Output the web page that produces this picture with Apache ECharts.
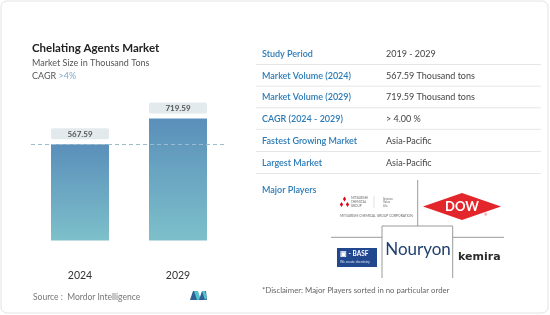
<!DOCTYPE html>
<html>
<head>
<meta charset="utf-8">
<script src="https://cdn.jsdelivr.net/npm/echarts@6/dist/echarts.min.js"></script>
<style>
  html, body { margin: 0; padding: 0; background: #fff; }
  #main { width: 550px; height: 315px; }
</style>
</head>
<body>
<div id="main"></div>
<script>
    var years = ['2024', '2029'];
    var volumes = [567.59, 719.59];
    var tableLabels = ['Study Period', 'Market Volume (2024)', 'Market Volume (2029)', 'CAGR (2024 - 2029)', 'Fastest Growing Market', 'Largest Market'];
    var tableValues = ['2019 - 2029', '567.59 Thousand tons', '719.59 Thousand tons', '> 4.00 %', 'Asia-Pacific', 'Asia-Pacific'];

    var FONT = 'Lato, "Open Sans", sans-serif';
    var blue = '#2b7bb6';

    function txt(x, y, text, size, color, weight, extra) {
        var s = { x: x, y: y, text: text, fontSize: size, fill: color, fontFamily: FONT,
                  fontWeight: weight || 'normal', textVerticalAlign: 'middle' };
        for (var k in extra) s[k] = extra[k];
        return { type: 'text', silent: true, style: s };
    }
    function line(x1, y1, x2, y2, color, w) {
        return { type: 'line', silent: true, shape: { x1: x1, y1: y1, x2: x2, y2: y2 },
                 style: { stroke: color, lineWidth: w || 1 } };
    }

    var graphics = [];
    // card outline
    graphics.push({ type: 'rect', silent: true, shape: { x: 1, y: 1, width: 547, height: 312, r: 6 },
                    style: { fill: 'none', stroke: '#e2e2e2', lineWidth: 1 } });
    // header text
    graphics.push(txt(32, 48, 'Chelating Agents Market', 11.5, '#222', 'bold'));
    graphics.push(txt(32, 63, 'Market Size in Thousand Tons', 9, '#555'));
    graphics.push({ type: 'text', silent: true, style: {
        x: 32, y: 76, textVerticalAlign: 'middle', fontFamily: FONT,
        text: '{a|CAGR }{b|>4%}',
        rich: { a: { fontSize: 9, fill: '#555', fontFamily: FONT }, b: { fontSize: 9, fill: '#7fa9cc', fontFamily: FONT } }
    } });
    // source
    graphics.push(txt(33, 297, 'Source :  Mordor Intelligence', 8.5, '#777'));
    graphics.push({ type: 'polygon', silent: true, shape: { points: [[190, 300], [193, 291], [197, 291], [200, 300]] }, style: { fill: '#2f5f96' } });
    graphics.push({ type: 'polygon', silent: true, shape: { points: [[194, 291], [198, 291], [201, 300], [197, 300]] }, style: { fill: '#52c3c9' } });
    graphics.push({ type: 'polygon', silent: true, shape: { points: [[199, 300], [202, 291], [206, 291], [207, 300]] }, style: { fill: '#2f5f96' } });
    graphics.push({ type: 'polygon', silent: true, shape: { points: [[202, 291], [205, 291], [207, 298], [205, 300]] }, style: { fill: '#52c3c9' } });

    // table
    var rowY = [54, 75.7, 97.3, 118.8, 141, 163];
    for (var i = 0; i < tableLabels.length; i++) {
        graphics.push(txt(262, rowY[i], tableLabels[i], 9, blue, '600'));
        graphics.push(txt(386, rowY[i], tableValues[i], 9, '#444'));
        graphics.push(line(256, rowY[i] + 10.5, 541, rowY[i] + 10.5, '#e6e6e6'));
    }
    graphics.push(txt(262, 190, 'Major Players', 9, blue, '600'));

    // logo grid
    graphics.push(line(417.7, 180, 417.7, 226, '#9a9a9a'));
    graphics.push({ type: 'polyline', silent: true, shape: { points: [[382, 278], [382, 226], [452.7, 226], [452.7, 278]] },
                    style: { stroke: '#9a9a9a', lineWidth: 1, fill: 'none' } });
    graphics.push(line(331, 237.3, 382, 237.3, '#9a9a9a'));
    graphics.push(line(452.7, 237.3, 504, 237.3, '#9a9a9a'));

    // Mitsubishi
    var dm = [[344.5, 199], [341.5, 204.5], [347.5, 204.5]];
    dm.forEach(function (p) {
        graphics.push({ type: 'polygon', silent: true, shape: { points: [[p[0], p[1] - 2.6], [p[0] + 1.6, p[1]], [p[0], p[1] + 2.6], [p[0] - 1.6, p[1]]] }, style: { fill: '#e60012' } });
    });
    graphics.push(txt(351, 198, 'MITSUBISHI', 3, '#666'));
    graphics.push(txt(351, 202, 'CHEMICAL', 3, '#666'));
    graphics.push(txt(351, 206, 'GROUP', 3, '#666'));
    graphics.push(line(374, 196, 374, 208, '#ccc', 0.6));
    graphics.push(txt(383, 199, 'Science', 3, '#666'));
    graphics.push(txt(383, 202.5, 'Value', 3, '#666'));
    graphics.push(txt(383, 206, 'Life', 3, '#666'));
    graphics.push(txt(340, 216, 'MITSUBISHI CHEMICAL GROUP CORPORATION', 3.3, '#666'));

    // Dow
    graphics.push({ type: 'polygon', silent: true, shape: { points: [[423, 206.5], [462, 193], [501, 206.5], [462, 220]] }, style: { fill: '#e3262b' } });
    graphics.push(txt(462, 207, 'DOW', 13, '#fff', 'bold', { textAlign: 'center' }));
    graphics.push(txt(484, 215, '®', 4, '#e3262b'));

    // BASF
    graphics.push({ type: 'rect', silent: true, shape: { x: 337, y: 248, width: 40, height: 19 }, style: { fill: '#21478f' } });
    graphics.push(txt(340, 254, '\u25A3 - BASF', 6.5, '#fff', 'bold'));
    graphics.push(txt(340, 262, 'We create chemistry', 3.3, '#dfe6f3'));

    // Nouryon
    graphics.push(txt(418, 250, 'Nouryon', 17, '#23416f', 'normal', { textAlign: 'center' }));
    // Kemira
    graphics.push(txt(458, 257.5, 'kemira', 11, '#2b2b2b', 'bold', { fontFamily: '"DejaVu Sans", sans-serif' }));

    graphics.push(txt(262, 290, '*Disclaimer: Major Players sorted in no particular order', 7.8, '#666'));

    var option = {
        animation: false,
        backgroundColor: '#fff',
        grid: { left: 31, right: 323, top: 88, bottom: 49 },
        xAxis: {
            type: 'category',
            data: years,
            axisLine: { show: false },
            axisTick: { show: false },
            axisLabel: { color: '#333', fontSize: 10.5, margin: 4, fontFamily: FONT }
        },
        yAxis: {
            type: 'value',
            min: -150,
            max: 900,
            show: false,
            splitLine: { show: false }
        },
        series: [{
            type: 'bar',
            data: volumes,
            barWidth: 58,
            itemStyle: {
                color: new echarts.graphic.LinearGradient(0, 0, 0, 1, [
                    { offset: 0, color: '#5a8fba' },
                    { offset: 1, color: '#7dc0ca' }
                ])
            },
            label: {
                show: true,
                position: 'top',
                distance: 5,
                formatter: function (p) { return p.value.toFixed(2); },
                backgroundColor: '#e3eaee',
                borderRadius: 2,
                width: 58,
                align: 'center',
                lineHeight: 10,
                padding: [1, 0, 0, 0],
                fontSize: 8,
                fontWeight: 'bold',
                color: '#555',
                fontFamily: FONT
            },
            markLine: {
                silent: true,
                symbol: 'none',
                label: { show: false },
                lineStyle: { color: '#9bbccc', type: [4, 3], width: 1 },
                data: [{ yAxis: volumes[0] }]
            }
        }],
        graphic: graphics
    };

    echarts.init(document.getElementById('main'), null, { renderer: 'canvas' }).setOption(option);
</script>
</body>
</html>
